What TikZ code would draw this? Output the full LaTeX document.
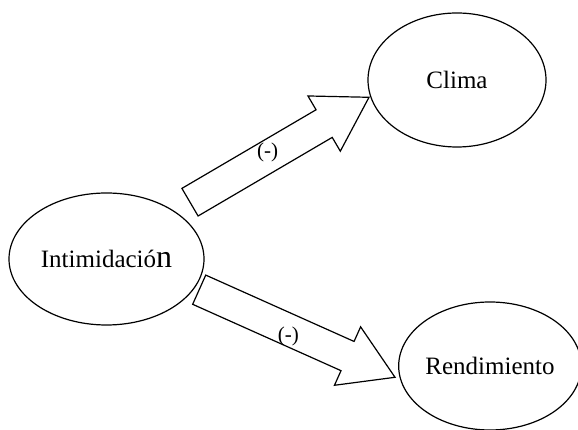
\documentclass[tikz,border=0pt]{standalone}
\usepackage{fontspec}
\setmainfont{Liberation Serif}
\usetikzlibrary{shapes.geometric,calc}

\tikzset{
  var/.style={ellipse,draw,line width=1.2pt,inner sep=0pt,font=\fontsize{25}{30}\selectfont},
  fatarrow/.style={draw,line width=1.2pt,line join=miter},
  sign/.style={inner sep=0pt,font=\fontsize{21}{25}\selectfont}
}

% block arrow from tail #1 to tip #2
\newcommand{\blockarr}[2]{%
  \coordinate (#1b) at ($(#2)!52pt!(#1)$);
  \draw[fatarrow] ($(#1)!16pt!90:(#2)$) -- ($(#1b)!16pt!90:(#2)$) -- ($(#1b)!32pt!90:(#2)$) -- (#2)
    -- ($(#1b)!32pt!-90:(#2)$) -- ($(#1b)!16pt!-90:(#2)$) -- ($(#1)!16pt!-90:(#2)$) -- cycle;
}

\begin{document}
\begin{tikzpicture}[x=1pt,y=1pt]
  \useasboundingbox (0,0) rectangle (578,430);
  \node[var,minimum width=195pt,minimum height=132pt] (intim) at (106.5,171)
    {\raisebox{-3pt}{Intimidació{\fontsize{32}{36}\selectfont n}}};
  \node[var,minimum width=178pt,minimum height=134pt] (clima) at (457,350) {Clima};
  \node[var,minimum width=174pt,minimum height=128pt] (rend) at (490,64) {Rendimiento};

  \coordinate (tup) at (190,227.8);
  \coordinate (hup) at (369,332.7);
  \coordinate (tdown) at (199.2,140.3);
  \coordinate (hdown) at (395,52.7);
  \blockarr{tup}{hup}
  \blockarr{tdown}{hdown}

  \node[sign] (sup) at ($(tup)!0.434!(hup)+(0,4)$) {(-)};
  \node[sign] (sdown) at ($(tdown)!0.455!(hdown)+(0,-7)$) {(-)};
\end{tikzpicture}
\end{document}
